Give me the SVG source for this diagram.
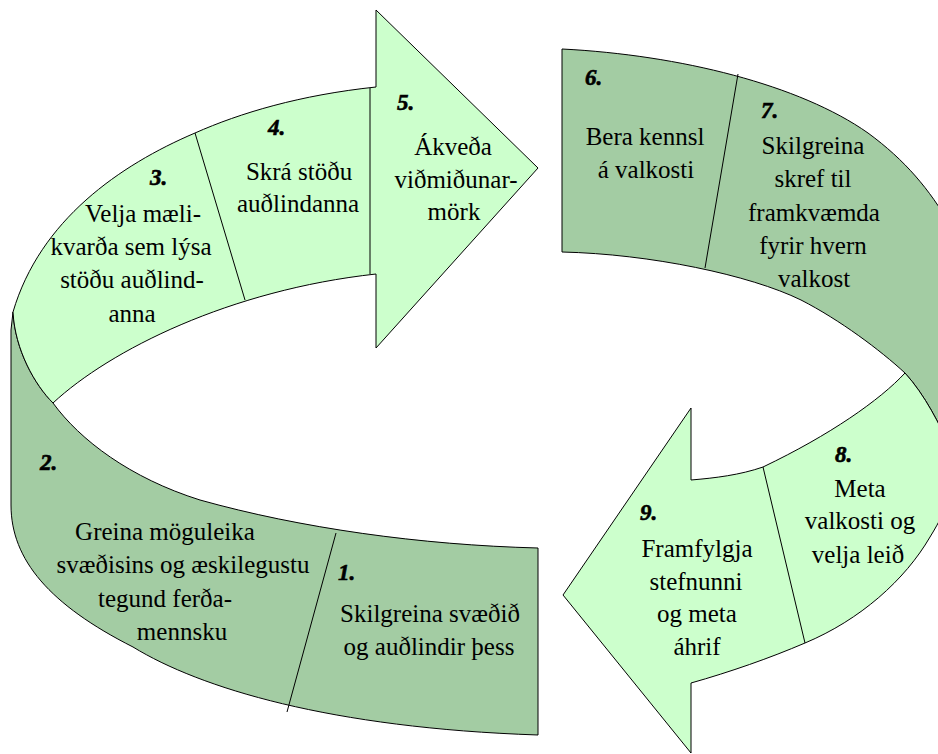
<svg xmlns="http://www.w3.org/2000/svg" width="938" height="754" viewBox="0 0 938 754">
<style>
.light{fill:#ccffcc;stroke:#000;stroke-width:1}
.dark{fill:#a3cca3;stroke:#000;stroke-width:1}
.div{stroke:#000;stroke-width:1;fill:none}
.t{font-size:25px;text-anchor:middle;fill:#000}
.n{font-weight:bold;font-style:italic;font-size:23px;fill:#000;stroke:#000;stroke-width:0.6}
</style>
<rect width="938" height="754" fill="#fff"/>
<g id="ribbons">
<path id="band-left" class="dark" d="M13,312 L11,330 L11,505 C11,560 50,605 133,647 C200,688 330,728 538,735 L538,548 C420,545 300,528 200,500 C130,478 80,440 53,403 C35,385 15,350 13,312 Z"/>
<path id="arrow-top" class="light" d="M376,87 C300,95 240,113 195,133 C120,165 40,220 13,312 C15,350 35,385 53,403 C110,350 230,290 376,274 L376,348 L538,168 L376,10 Z"/>
<path id="band-right" class="dark" d="M562,49 C680,55 800,85 868,133 C905,160 930,190 950,225 L990,225 L990,450 L950,448 C940,425 925,395 905,373 C880,350 840,320 801,300 C750,275 650,254 562,252 Z"/>
<path id="arrow-bottom" class="light" d="M905,373 C925,395 940,425 950,448 C960,475 950,505 930,537 C905,580 860,620 805,643 C770,658 730,672 691,683 L691,753 L563,595 L691,408 L691,480 C715,478 740,475 763,467 C830,435 880,400 905,373 Z"/>
</g>
<g id="connectors">
<line class="div" x1="195" y1="133" x2="245" y2="300"/>
<line class="div" x1="370" y1="88" x2="370" y2="274"/>
<line class="div" x1="738" y1="74" x2="705" y2="268"/>
<line class="div" x1="763" y1="467" x2="805" y2="643"/>
<line class="div" x1="336" y1="533" x2="287" y2="712"/>
</g>
<g id="step1" font-family="Liberation Serif">
<text class="n" x="338" y="580">1.</text>
<text class="t" x="430" y="622">Skilgreina svæðið</text>
<text class="t" x="429" y="655">og auðlindir þess</text>
</g>
<g id="step2" font-family="Liberation Serif">
<text class="n" x="40" y="470">2.</text>
<text class="t" x="165" y="540">Greina möguleika</text>
<text class="t" x="183" y="573">svæðisins og æskilegustu</text>
<text class="t" x="165" y="607">tegund ferða-</text>
<text class="t" x="182" y="640">mennsku</text>
</g>
<g id="step3" font-family="Liberation Serif">
<text class="n" x="150" y="185">3.</text>
<text class="t" x="143" y="222">Velja mæli-</text>
<text class="t" x="131" y="255">kvarða sem lýsa</text>
<text class="t" x="132" y="288">stöðu auðlind-</text>
<text class="t" x="132" y="322">anna</text>
</g>
<g id="step4" font-family="Liberation Serif">
<text class="n" x="268" y="135">4.</text>
<text class="t" x="299" y="180">Skrá stöðu</text>
<text class="t" x="298" y="212">auðlindanna</text>
</g>
<g id="step5" font-family="Liberation Serif">
<text class="n" x="397" y="110">5.</text>
<text class="t" x="453" y="155">Ákveða</text>
<text class="t" x="456" y="188">viðmiðunar-</text>
<text class="t" x="454" y="220">mörk</text>
</g>
<g id="step6" font-family="Liberation Serif">
<text class="n" x="585" y="85">6.</text>
<text class="t" x="645" y="145">Bera kennsl</text>
<text class="t" x="646" y="178">á valkosti</text>
</g>
<g id="step7" font-family="Liberation Serif">
<text class="n" x="761" y="118">7.</text>
<text class="t" x="813" y="154">Skilgreina</text>
<text class="t" x="813" y="187">skref til</text>
<text class="t" x="814" y="221">framkvæmda</text>
<text class="t" x="813" y="254">fyrir hvern</text>
<text class="t" x="814" y="287">valkost</text>
</g>
<g id="step8" font-family="Liberation Serif">
<text class="n" x="835" y="462">8.</text>
<text class="t" x="860" y="497">Meta</text>
<text class="t" x="860" y="529">valkosti og</text>
<text class="t" x="858" y="563">velja leið</text>
</g>
<g id="step9" font-family="Liberation Serif">
<text class="n" x="640" y="520">9.</text>
<text class="t" x="697" y="557">Framfylgja</text>
<text class="t" x="696" y="590">stefnunni</text>
<text class="t" x="697" y="622">og meta</text>
<text class="t" x="697" y="655">áhrif</text>
</g>
</svg>
